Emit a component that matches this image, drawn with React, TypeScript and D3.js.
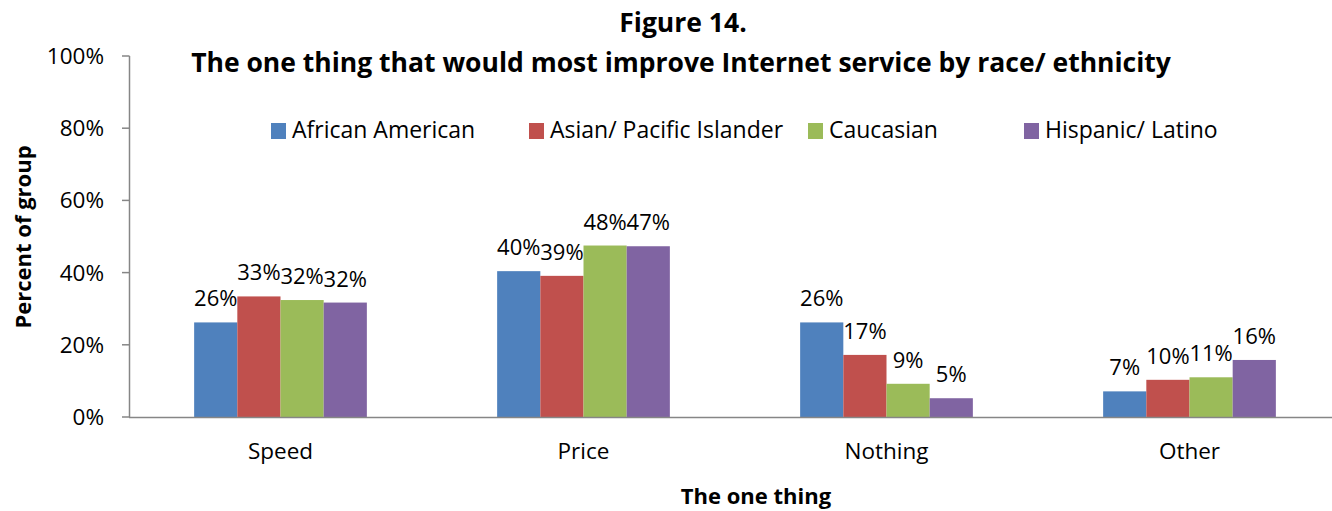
import React from "react";
import * as d3 from "d3";

const categories = ["Speed", "Price", "Nothing", "Other"];
const seriesNames = ["African American", "Asian/ Pacific Islander", "Caucasian", "Hispanic/ Latino"];
const africanAmerican = [26.2, 40.4, 26.2, 7.1];
const asianPacific = [33.4, 39.1, 17.2, 10.3];
const caucasian = [32.4, 47.5, 9.2, 11.0];
const hispanicLatino = [31.7, 47.3, 5.2, 15.8];
const yTicks = [0, 20, 40, 60, 80, 100];
const colors = ["#4F81BD", "#C0504D", "#9BBB59", "#8064A2"];

const W = 1332;
const H = 511;
const FONT = "'Open Sans', sans-serif";

export default function App() {
  const series = [africanAmerican, asianPacific, caucasian, hispanicLatino];
  const x0 = d3.scaleBand<string>().domain(categories).range([129, 1341]).paddingInner(0.43).paddingOuter(0.215);
  const x1 = d3.scaleBand<string>().domain(seriesNames).range([0, x0.bandwidth()]);
  const y = d3.scaleLinear().domain([0, 100]).range([417, 56]);
  const legendX = [271, 529, 808, 1024];

  return (
    <svg width={W} height={H} style={{ position: "absolute", left: 0, top: 0, background: "#fff" }} fontFamily={FONT}>
      <text x={683} y={32} textAnchor="middle" fontSize={26.5} fontWeight="bold" fill="#000">Figure 14.</text>
      <text x={681} y={72} textAnchor="middle" fontSize={26.5} fontWeight="bold" fill="#000">The one thing that would most improve Internet service by race/ ethnicity</text>

      {/* y axis */}
      <line x1={129.5} x2={129.5} y1={56} y2={417} stroke="#868686" strokeWidth={1.5} />
      {yTicks.map((t) => (
        <g key={t}>
          <line x1={122} x2={129.5} y1={y(t)} y2={y(t)} stroke="#868686" strokeWidth={1.5} />
          <text x={104} y={y(t) + 8} textAnchor="end" fontSize={22.5} fill="#000">{t}%</text>
        </g>
      ))}

      {/* bars */}
      {categories.map((c, ci) => (
        <g key={c} transform={`translate(${x0(c)},0)`}>
          {seriesNames.map((s, si) => {
            const v = series[si][ci];
            const bx = x1(s)!;
            return (
              <g key={s}>
                <rect x={bx} y={y(v)} width={x1.bandwidth()} height={y(0) - y(v)} fill={colors[si]} />
                <text x={bx + x1.bandwidth() / 2} y={y(v) - 16} textAnchor="middle" fontSize={22} fill="#000">
                  {Math.round(v)}%
                </text>
              </g>
            );
          })}
          <text x={x0.bandwidth() / 2} y={459} textAnchor="middle" fontSize={22.5} fill="#000">{c}</text>
        </g>
      ))}

      {/* x axis */}
      <line x1={129} x2={W} y1={417.5} y2={417.5} stroke="#868686" strokeWidth={1.5} />

      {/* legend */}
      {seriesNames.map((s, i) => (
        <g key={s}>
          <rect x={legendX[i]} y={123} width={15} height={16} fill={colors[i]} />
          <text x={legendX[i] + 21} y={138} fontSize={23} fill="#000">{s}</text>
        </g>
      ))}

      {/* axis titles */}
      <text transform="translate(31,237) rotate(-90)" textAnchor="middle" fontSize={22} fontWeight="bold" fill="#000">Percent of group</text>
      <text x={756} y={504} textAnchor="middle" fontSize={22} fontWeight="bold" fill="#000">The one thing</text>
    </svg>
  );
}
